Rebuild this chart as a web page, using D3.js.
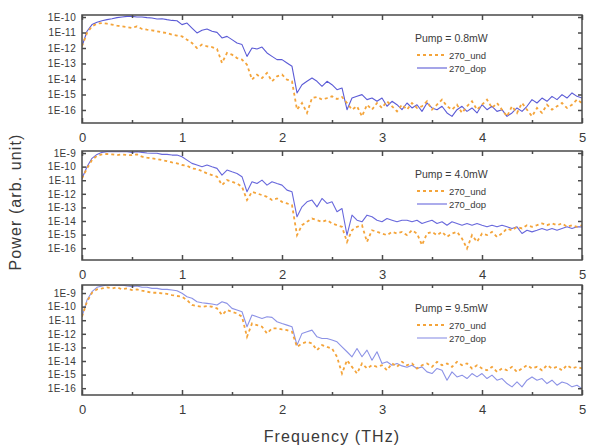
<!DOCTYPE html>
<html><head><meta charset="utf-8">
<script src="https://cdn.jsdelivr.net/npm/d3@7"></script>
<style>
body{margin:0;background:#fff}
svg{display:block}
text{font-family:"Liberation Sans",Arial,Helvetica,sans-serif}
</style></head>
<body><svg id="c" width="590" height="448"></svg>
<script>
// log10(power) sampled every 0.05 THz from 0 to 5 THz
const und08 = [-11.89,-11.03,-10.6,-10.43,-10.39,-10.43,-10.49,-10.56,-10.6,-10.65,
-10.71,-10.6,-10.77,-10.82,-10.86,-10.92,-10.99,-11.03,-11.14,-11.2,
-11.25,-11.46,-11.68,-12.0,-11.78,-11.89,-11.94,-12.06,-12.97,-12.32,
-12.43,-12.65,-12.75,-13.08,-14.04,-13.72,-13.94,-13.61,-14.15,-13.83,
-13.72,-14.04,-14.15,-15.98,-15.55,-16.19,-15.23,-15.16,-15.33,-15.23,
-15.12,-15.29,-15.16,-15.55,-15.98,-15.76,-16.41,-15.66,-15.98,-15.55,
-15.87,-15.44,-15.76,-16.09,-15.66,-15.98,-15.55,-15.87,-15.76,-15.44,
-15.98,-15.66,-15.33,-15.76,-15.98,-15.66,-16.19,-15.76,-15.44,-15.98,
-15.66,-15.33,-15.87,-15.55,-15.98,-16.41,-15.76,-16.19,-15.55,-15.98,
-16.41,-15.87,-16.19,-15.66,-15.98,-15.76,-15.55,-15.87,-15.66,-15.33,
-15.55];
const dop08 = [-11.89,-10.92,-10.49,-10.34,-10.24,-10.17,-10.11,-10.04,-10.0,-9.96,
-9.96,-10.0,-10.0,-10.04,-10.06,-10.13,-10.11,-10.17,-10.22,-10.24,
-10.49,-10.39,-10.71,-11.03,-10.86,-10.77,-10.92,-10.99,-11.35,-11.25,
-11.46,-11.68,-11.78,-12.54,-12.0,-12.06,-11.94,-12.32,-12.54,-12.75,
-12.75,-12.97,-13.18,-14.9,-14.37,-14.15,-13.94,-14.15,-14.47,-14.15,
-14.37,-14.69,-14.58,-15.98,-15.23,-15.12,-15.01,-15.33,-15.23,-15.44,
-15.23,-15.76,-15.44,-15.66,-15.98,-15.55,-15.87,-15.66,-16.09,-15.55,
-15.87,-15.98,-15.76,-16.19,-16.41,-15.98,-15.76,-16.09,-15.87,-16.19,
-15.66,-15.98,-15.76,-16.09,-15.98,-16.41,-16.19,-15.87,-16.09,-15.76,
-15.33,-15.55,-15.23,-15.44,-15.12,-15.33,-15.01,-15.23,-14.9,-15.12,
-15.23];
const und40 = [-10.87,-10.13,-9.52,-9.2,-9.1,-9.07,-9.1,-9.15,-9.1,-9.15,
-9.15,-9.1,-9.27,-9.34,-9.39,-9.44,-9.52,-9.59,-9.69,-9.76,
-9.88,-9.93,-10.13,-10.18,-10.33,-10.5,-10.62,-10.74,-11.36,-10.99,
-11.11,-11.24,-11.48,-12.46,-11.85,-11.97,-12.1,-12.22,-12.46,-12.34,
-12.59,-12.71,-12.83,-15.04,-14.31,-14.06,-13.82,-13.94,-14.06,-13.94,
-14.18,-14.31,-14.43,-15.54,-14.68,-14.43,-14.31,-15.54,-14.68,-14.8,
-14.92,-15.04,-14.8,-14.92,-14.8,-15.04,-14.68,-14.92,-15.78,-14.92,
-14.8,-15.04,-14.8,-15.17,-14.92,-14.8,-15.29,-16.03,-15.04,-15.54,
-14.92,-15.04,-14.8,-15.17,-14.92,-14.55,-14.68,-14.43,-14.55,-14.31,
-14.43,-14.31,-14.18,-14.31,-14.18,-14.31,-14.18,-14.43,-14.31,-14.43,
-14.31];
const dop40 = [-10.87,-10.01,-9.39,-9.1,-8.95,-8.9,-8.9,-8.9,-8.9,-8.9,
-8.95,-8.9,-8.95,-9.0,-9.02,-9.02,-9.1,-9.1,-9.15,-9.15,
-9.27,-9.52,-9.76,-9.88,-10.01,-9.88,-10.01,-10.13,-10.62,-10.25,
-10.38,-10.5,-10.74,-11.85,-11.11,-11.24,-10.99,-11.36,-11.11,-11.24,
-11.36,-11.73,-11.85,-13.69,-12.96,-12.59,-12.46,-12.96,-12.34,-12.71,
-12.59,-13.32,-13.08,-15.04,-13.57,-13.94,-14.06,-13.57,-13.69,-13.94,
-14.06,-13.82,-13.94,-14.06,-13.94,-13.94,-14.06,-13.94,-14.18,-14.06,
-13.94,-14.18,-14.06,-14.31,-14.06,-14.18,-14.31,-14.18,-14.31,-14.18,
-14.31,-14.43,-14.31,-14.43,-14.31,-14.43,-14.55,-14.43,-14.92,-14.68,
-14.8,-14.68,-14.55,-14.68,-14.55,-14.68,-14.55,-14.43,-14.55,-14.43,
-14.43];
const und95 = [-10.74,-9.64,-8.98,-8.73,-8.66,-8.58,-8.66,-8.58,-8.73,-8.66,
-8.78,-8.73,-8.83,-8.9,-8.98,-8.98,-9.02,-9.07,-9.15,-9.22,
-9.27,-9.52,-9.88,-9.96,-10.01,-9.96,-10.01,-10.13,-10.62,-10.25,
-10.38,-10.5,-10.74,-12.22,-11.24,-11.36,-11.48,-11.97,-11.6,-11.6,
-11.68,-11.73,-11.85,-12.96,-12.71,-12.59,-12.71,-13.2,-12.83,-12.96,
-13.08,-13.69,-14.92,-13.94,-14.43,-14.92,-14.18,-14.55,-14.31,-14.43,
-14.31,-14.68,-14.18,-14.43,-14.06,-14.31,-14.18,-14.55,-14.31,-14.18,
-14.43,-14.06,-14.31,-14.18,-14.43,-14.06,-14.31,-14.18,-14.55,-14.31,
-14.55,-14.68,-14.43,-14.8,-14.55,-14.68,-14.43,-14.8,-14.55,-14.31,
-14.55,-14.43,-14.68,-14.31,-14.55,-14.43,-14.68,-14.31,-14.55,-14.43,
-14.55];
const dop95 = [-10.74,-9.52,-8.9,-8.58,-8.48,-8.41,-8.41,-8.43,-8.41,-8.48,
-8.53,-8.48,-8.58,-8.58,-8.66,-8.66,-8.73,-8.73,-8.78,-8.83,
-9.02,-9.27,-9.39,-9.64,-9.71,-9.76,-9.81,-9.88,-9.64,-9.76,
-10.13,-10.25,-10.38,-11.48,-10.62,-10.74,-10.87,-10.74,-10.79,-11.11,
-11.24,-11.36,-11.48,-12.83,-11.97,-11.85,-11.73,-12.22,-12.34,-12.34,
-12.46,-12.59,-12.96,-13.32,-13.69,-13.08,-13.69,-13.2,-13.94,-13.32,
-14.18,-14.06,-14.31,-14.18,-14.36,-14.46,-14.31,-14.55,-14.43,-14.8,
-14.92,-14.55,-14.68,-15.41,-14.8,-15.17,-15.04,-15.29,-14.92,-15.17,
-14.92,-15.29,-15.04,-15.41,-15.29,-15.66,-15.9,-15.54,-15.9,-15.41,
-15.17,-15.41,-15.29,-15.66,-15.41,-15.78,-15.54,-15.66,-15.9,-15.78,
-16.03];

const xTicks = [0,1,2,3,4,5];
const xMinor = [0.5,1.5,2.5,3.5,4.5];
const yTicks1 = [-10,-11,-12,-13,-14,-15,-16];
const yTicks23 = [-9,-10,-11,-12,-13,-14,-15,-16];
const pumpLabels = ["Pump = 0.8mW","Pump = 4.0mW","Pump = 9.5mW"];
const seriesNames = ["270_und","270_dop"];

const panels = [
  {top:15, bottom:123, lo:-16.84, hi:-9.87, ticks:yTicks1, und:und08, dop:dop08, label:pumpLabels[0], dopColor:"#5b5bd6"},
  {top:151, bottom:260, lo:-16.87, hi:-8.85, ticks:yTicks23, und:und40, dop:dop40, label:pumpLabels[1], dopColor:"#6868dc"},
  {top:285, bottom:395, lo:-16.5, hi:-8.41, ticks:yTicks23, und:und95, dop:dop95, label:pumpLabels[2], dopColor:"#8c92e6"}
];
const undColor = "#f4a43a";
const frameColor = "#4a4a4a";
const textColor = "#3a3a3a";

const svg = d3.select("#c");
const x = d3.scaleLinear().domain([0,5]).range([82,582]);

panels.forEach((p,pi) => {
  const y = d3.scaleLog().domain([Math.pow(10,p.lo), Math.pow(10,p.hi)]).range([p.bottom, p.top]);
  const g = svg.append("g");
  const cid = "clip"+pi;
  g.append("clipPath").attr("id",cid).append("rect")
    .attr("x",x(0)).attr("y",p.top).attr("width",x(5)-x(0)).attr("height",p.bottom-p.top);

  const n = p.und.length;
  const freq = d3.range(n).map(i => i*5/(n-1));
  const line = d3.line().x((d,i)=>x(freq[i])).y(d=>y(Math.pow(10,d)));

  const lg = g.append("g").attr("clip-path",`url(#${cid})`);
  lg.append("path").datum(p.dop).attr("d",line)
    .attr("fill","none").attr("stroke",p.dopColor).attr("stroke-width",1.1).attr("stroke-linejoin","round");
  lg.append("path").datum(p.und).attr("d",line)
    .attr("fill","none").attr("stroke",undColor).attr("stroke-width",1.8).attr("stroke-dasharray","3,3");

  // axes
  const bottomAx = g.append("g").attr("transform",`translate(0,${p.bottom})`)
    .call(d3.axisBottom(x).tickValues(xTicks).tickSize(-5).tickPadding(10).tickFormat(d3.format("d")));
  g.append("g").attr("transform",`translate(0,${p.bottom})`)
    .call(d3.axisBottom(x).tickValues(xMinor).tickSize(-3).tickFormat(""));
  g.append("g").attr("transform",`translate(0,${p.top})`)
    .call(d3.axisTop(x).tickValues(xTicks).tickSize(-5).tickFormat(""));
  g.append("g").attr("transform",`translate(0,${p.top})`)
    .call(d3.axisTop(x).tickValues(xMinor).tickSize(-3).tickFormat(""));
  g.append("g").attr("transform",`translate(${x(0)},0)`)
    .call(d3.axisLeft(y).tickValues(p.ticks.map(e=>Math.pow(10,e))).tickSize(-4).tickPadding(6)
      .tickFormat(d => "1E" + Math.round(Math.log10(d))));
  g.append("g").attr("transform",`translate(${x(5)},0)`)
    .call(d3.axisRight(y).tickValues(p.ticks.map(e=>Math.pow(10,e))).tickSize(-4).tickFormat(""));

  g.selectAll(".domain").remove();
  g.selectAll(".tick line").attr("stroke",frameColor).attr("stroke-width",1.5);
  g.selectAll(".tick text").attr("fill",textColor).style("font-family",'"Liberation Sans",Arial,sans-serif');
  bottomAx.selectAll(".tick text").style("font-size","13px");
  g.selectAll("g").filter(function(){return d3.select(this).attr("transform") === `translate(${x(0)},0)`;})
    .selectAll(".tick text").style("font-size","10px").attr("letter-spacing","0.3");

  g.append("rect").attr("x",x(0)).attr("y",p.top).attr("width",x(5)-x(0)).attr("height",p.bottom-p.top)
    .attr("fill","none").attr("stroke",frameColor).attr("stroke-width",1.5);

  // legend
  const lx = 415;
  g.append("text").attr("x",lx).attr("y",p.top+27).text(p.label)
    .attr("fill",textColor).style("font-size","10.5px");
  const rows = [{name:seriesNames[0], color:undColor, dash:"3,3", w:1.8},
                {name:seriesNames[1], color:p.dopColor, dash:null, w:1.1}];
  rows.forEach((r,ri) => {
    const yy = p.top + 40 + ri*13;
    g.append("line").attr("x1",lx+2).attr("x2",lx+32).attr("y1",yy).attr("y2",yy)
      .attr("stroke",r.color).attr("stroke-width",r.w).attr("stroke-dasharray",r.dash);
    g.append("text").attr("x",lx+34).attr("y",yy+3.5).text(r.name)
      .attr("fill",textColor).style("font-size","9.5px");
  });
});

svg.append("text").attr("x",332).attr("y",442).attr("text-anchor","middle")
  .text("Frequency (THz)").attr("fill",textColor).style("font-size","16px").attr("letter-spacing","1.1");
svg.append("text").attr("transform","translate(21,202) rotate(-90)").attr("text-anchor","middle")
  .text("Power (arb. unit)").attr("fill",textColor).style("font-size","16px").attr("letter-spacing","1.1");
</script></body></html>
